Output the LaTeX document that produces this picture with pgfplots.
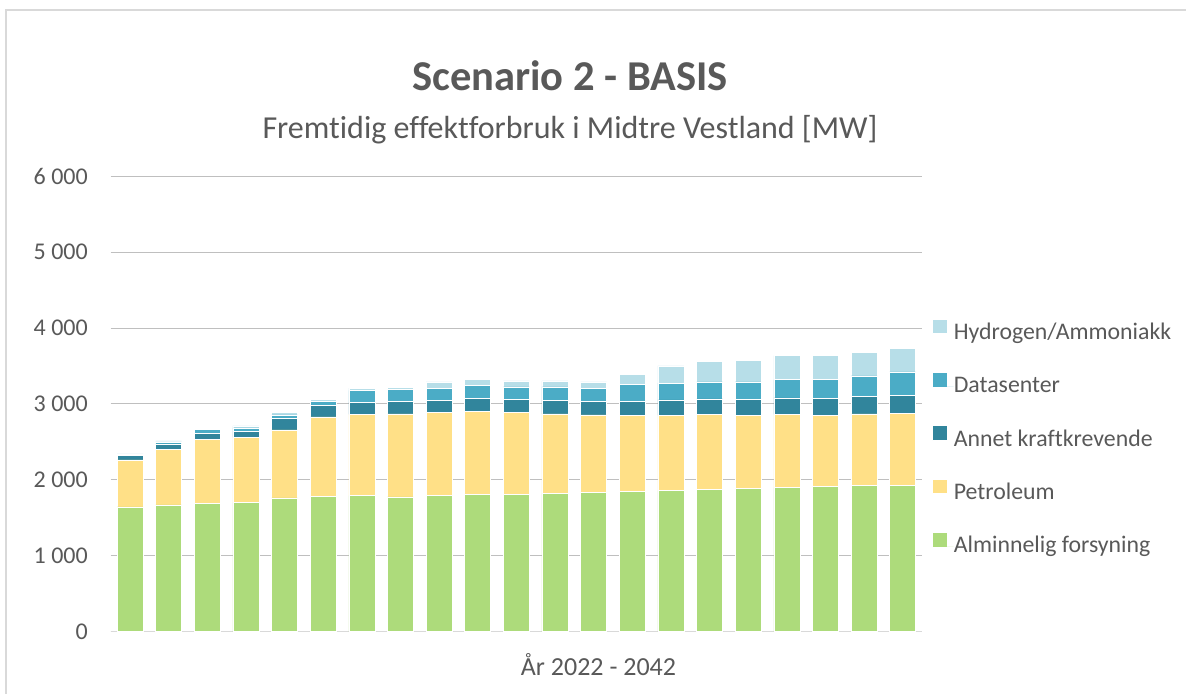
\documentclass[border=0pt]{standalone}
\usepackage{fontspec}
\setmainfont{Carlito}[Ligatures=NoCommon]
\usepackage{pgfplots}
\pgfplotsset{compat=1.18}
\usepackage{pgfplotstable}
\definecolor{txt}{HTML}{595959}
\definecolor{grid}{HTML}{D9D9D9}
\definecolor{cA}{HTML}{ADDB7B}
\definecolor{cP}{HTML}{FFE087}
\definecolor{cK}{HTML}{31859C}
\definecolor{cD}{HTML}{4BACC6}
\definecolor{cH}{HTML}{B7DEE8}
\pgfplotstableread{
x A P K D H
1 1644 620 57 17 5
2 1670 734 71 26 13
3 1688 848 75 57 9
4 1701 857 79 49 26
5 1763 896 150 48 31
6 1780 1051 149 49 30
7 1793 1069 162 154 31
8 1776 1094 163 158 31
9 1793 1091 162 158 88
10 1807 1094 172 167 79
11 1811 1073 175 167 79
12 1820 1050 176 180 79
13 1833 1024 176 171 88
14 1846 1002 185 220 140
15 1859 989 207 220 228
16 1873 989 206 224 268
17 1886 967 206 233 282
18 1899 963 219 238 316
19 1912 941 220 246 321
20 1928 942 229 272 313
21 1932 943 241 308 308
}\data
\begin{document}
\begin{tikzpicture}[x=1bp,y=1bp]
\path[use as bounding box, fill=white] (0,0) rectangle (1186,694);
\draw[grid, line width=1.5bp] (6,0) -- (6,684) -- (1186,684);
\node[anchor=base, text=txt, font=\fontsize{42.5bp}{50bp}\selectfont\bfseries] at (570,603) {Scenario 2 - BASIS};
\node[anchor=base, text=txt, font=\fontsize{32bp}{38bp}\selectfont] at (570,555) {Fremtidig effektforbruk i Midtre Vestland [MW]};
\node[anchor=base, text=txt, font=\fontsize{26bp}{31bp}\selectfont] at (598.5,18) {År 2022 - 2042};
\begin{axis}[
  at={(110.7bp,62.3bp)}, anchor=south west,
  scale only axis, width=811.3bp, height=455.5bp,
  ybar stacked, bar width=0.673,
  xmin=0.5, xmax=21.5, ymin=0, ymax=6000,
  xtick=\empty,
  ytick={0,1000,2000,3000,4000,5000,6000},
  yticklabels={0,1 000,2 000,3 000,4 000,5 000,6 000},
  yticklabel style={inner sep=0pt, xshift=-22.7bp, text=txt, font=\fontsize{24bp}{28bp}\selectfont},
  major tick length=0pt,
  ymajorgrids, grid style={grid, line width=1bp},
  separate axis lines,
  axis x line*=bottom, axis y line*=left,
  x axis line style={grid, line width=1.2bp, -},
  y axis line style={draw=none},
  every outer y axis line/.style={draw=none},
  reverse legend,
  legend cell align=left,
  legend style={draw=none, fill=none, at={(1.0132,0.685)}, anchor=north west,
    inner sep=0pt, outer sep=0pt, row sep=28.3bp, column sep=0pt,
    font=\fontsize{23.8bp}{28bp}\selectfont, text=txt,
    nodes={inner sep=0pt, text height=17bp, text depth=5bp}},
  legend image code/.code={\fill[#1,draw=none] (0bp,0bp) rectangle (14bp,14bp); \path (0bp,0bp) -- (20.6bp,0bp);},
  every axis plot/.append style={draw=white, line width=0.5bp},
]
\addplot[fill=cA] table[x=x,y=A]{\data};
\addlegendentry{Alminnelig forsyning}
\addplot[fill=cP] table[x=x,y=P]{\data};
\addlegendentry{Petroleum}
\addplot[fill=cK] table[x=x,y=K]{\data};
\addlegendentry{Annet kraftkrevende}
\addplot[fill=cD] table[x=x,y=D]{\data};
\addlegendentry{Datasenter}
\addplot[fill=cH] table[x=x,y=H]{\data};
\addlegendentry{Hydrogen/Ammoniakk}
\end{axis}
\end{tikzpicture}
\end{document}
